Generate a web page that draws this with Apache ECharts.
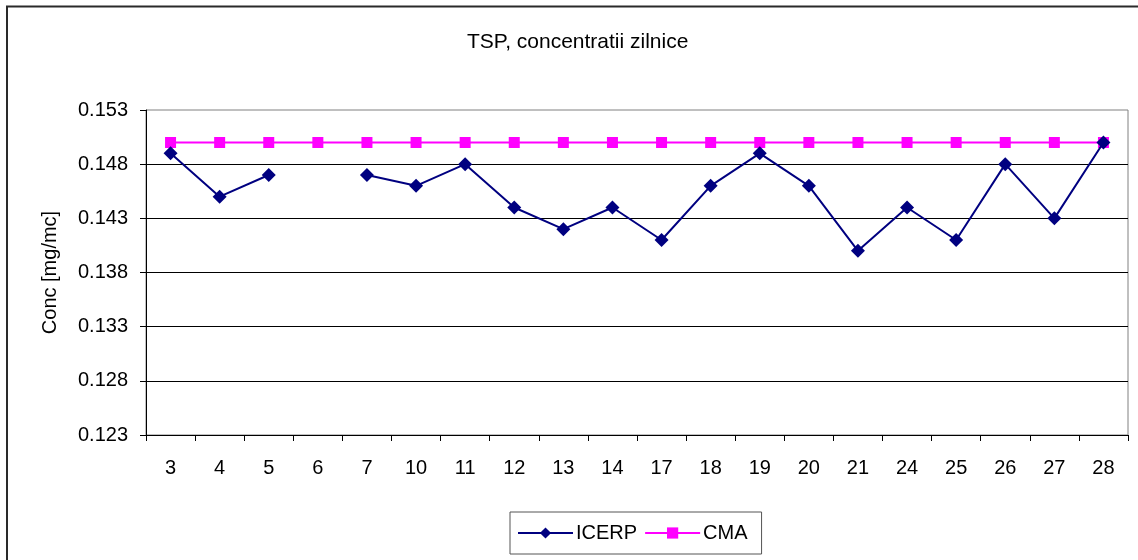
<!DOCTYPE html>
<html>
<head>
<meta charset="utf-8">
<script src="https://cdn.jsdelivr.net/npm/echarts@6/dist/echarts.min.js"></script>
<style>
html,body{margin:0;padding:0;background:#fff;}
#chart{width:1138px;height:560px;}
</style>
</head>
<body>
<div id="chart"></div>
<script>
var categories = ['3','4','5','6','7','10','11','12','13','14','17','18','19','20','21','24','25','26','27','28'];
var icerp = [0.149,0.145,0.147,null,0.147,0.146,0.148,0.144,0.142,0.144,0.141,0.146,0.149,0.146,0.140,0.144,0.141,0.148,0.143,0.150];
var cma = [0.150,0.150,0.150,0.150,0.150,0.150,0.150,0.150,0.150,0.150,0.150,0.150,0.150,0.150,0.150,0.150,0.150,0.150,0.150,0.150];
var titleText = 'TSP, concentratii zilnice';
var yName = 'Conc [mg/mc]';

var FONT = "'Liberation Sans', Arial, sans-serif";
var chart = echarts.init(document.getElementById('chart'), null, {renderer:'canvas'});
chart.setOption({
  animation: false,
  backgroundColor: '#ffffff',
  title: {
    text: titleText, left: 462, top: 27,
    textStyle: {fontFamily: FONT, fontSize: 21, fontWeight: 'normal', color: '#000'}
  },
  graphic: [
    {type:'line', shape:{x1:7, y1:6, x2:7, y2:560}, style:{stroke:'#2a2a2a', lineWidth:2}},
    {type:'line', shape:{x1:6, y1:6.5, x2:1138, y2:6.5}, style:{stroke:'#2a2a2a', lineWidth:2}}
  ],
  grid: {
    left: 146, right: 10, top: 110, bottom: 125,
    show: true, borderColor: '#808080', borderWidth: 1, backgroundColor: 'transparent'
  },
  legend: {
    left: 510, top: 512,
    orient: 'horizontal',
    borderColor: '#555', borderWidth: 1,
    padding: [11, 14, 11, 7],
    itemGap: 7,
    itemWidth: 55, itemHeight: 14,
    textStyle: {fontFamily: FONT, fontSize: 20, color: '#000', padding:[0,0,0,-2]},
    data: ['ICERP', 'CMA']
  },
  xAxis: {
    type: 'category',
    data: categories,
    boundaryGap: true,
    axisLine: {lineStyle: {color: '#000', width: 1}},
    axisTick: {show: true, interval: 0, length: 6, lineStyle: {color: '#000'}},
    axisLabel: {interval: 0, margin: 23, fontFamily: FONT, fontSize: 20, color: '#000'},
    splitLine: {show: false}
  },
  yAxis: {
    type: 'value',
    min: 0.123, max: 0.153, interval: 0.005,
    name: yName, nameLocation: 'middle', nameRotate: 90, nameGap: 86,
    nameTextStyle: {fontFamily: FONT, fontSize: 20, color: '#000'},
    axisLine: {show: true, lineStyle: {color: '#000', width: 1}},
    axisTick: {show: true, length: 6, lineStyle: {color: '#000'}},
    axisLabel: {margin: 18, fontFamily: FONT, fontSize: 20, color: '#000',
      formatter: function (v) { return v.toFixed(3); }},
    splitLine: {show: true, showMaxLine: false, lineStyle: {color: '#000', width: 1}}
  },
  series: [
    {
      name: 'ICERP', type: 'line', data: icerp,
      connectNulls: false,
      symbol: 'diamond', symbolSize: 14,
      itemStyle: {color: '#000080'},
      lineStyle: {color: '#000080', width: 2},
      z: 3
    },
    {
      name: 'CMA', type: 'line', data: cma,
      symbol: 'rect', symbolSize: 11,
      itemStyle: {color: '#FF00FF'},
      lineStyle: {color: '#FF00FF', width: 2},
      z: 2
    }
  ]
});
</script>
</body>
</html>
